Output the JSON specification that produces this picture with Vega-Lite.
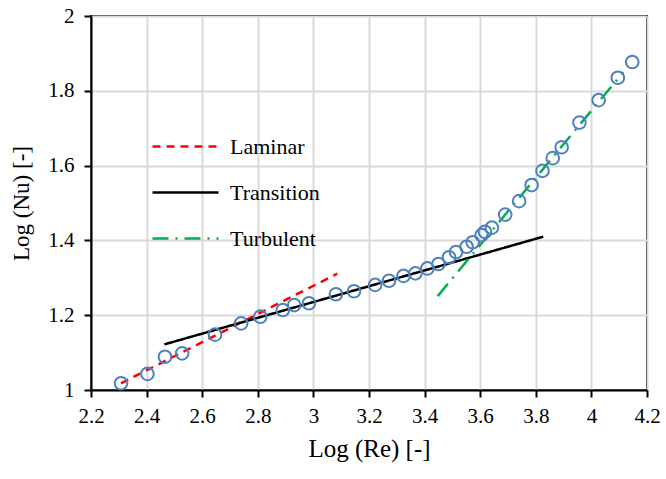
{
  "$schema": "https://vega.github.io/schema/vega-lite/v6.json",
  "autosize": "none",
  "width": 556,
  "height": 374,
  "padding": {"left": 91, "top": 16, "right": 19, "bottom": 89},
  "background": "white",
  "config": {
    "view": {"stroke": "black", "strokeWidth": 2},
    "font": "Times New Roman",
    "axis": {
      "labelFont": "Times New Roman",
      "titleFont": "Times New Roman",
      "labelColor": "black",
      "titleColor": "black",
      "titleFontWeight": "normal",
      "domainColor": "black",
      "domainWidth": 2,
      "tickColor": "black",
      "tickWidth": 2,
      "tickSize": 7,
      "gridColor": "#d9d9d9",
      "gridWidth": 2
    },
    "legend": {"labelFont": "Times New Roman"}
  },
  "datasets": {
    "points": [
      {"re": 2.308, "nu": 1.018}, {"re": 2.403, "nu": 1.043}, {"re": 2.466, "nu": 1.089},
      {"re": 2.528, "nu": 1.098}, {"re": 2.646, "nu": 1.148}, {"re": 2.740, "nu": 1.178},
      {"re": 2.809, "nu": 1.196}, {"re": 2.890, "nu": 1.214}, {"re": 2.931, "nu": 1.227},
      {"re": 2.984, "nu": 1.232}, {"re": 3.081, "nu": 1.256}, {"re": 3.146, "nu": 1.264},
      {"re": 3.222, "nu": 1.281}, {"re": 3.272, "nu": 1.292}, {"re": 3.324, "nu": 1.305},
      {"re": 3.367, "nu": 1.312}, {"re": 3.410, "nu": 1.325}, {"re": 3.450, "nu": 1.337},
      {"re": 3.488, "nu": 1.355}, {"re": 3.513, "nu": 1.369}, {"re": 3.551, "nu": 1.383},
      {"re": 3.573, "nu": 1.395}, {"re": 3.605, "nu": 1.414}, {"re": 3.617, "nu": 1.423},
      {"re": 3.642, "nu": 1.434}, {"re": 3.690, "nu": 1.469}, {"re": 3.740, "nu": 1.505},
      {"re": 3.785, "nu": 1.548}, {"re": 3.824, "nu": 1.586}, {"re": 3.861, "nu": 1.620},
      {"re": 3.893, "nu": 1.649}, {"re": 3.957, "nu": 1.715}, {"re": 4.026, "nu": 1.775},
      {"re": 4.095, "nu": 1.835}, {"re": 4.147, "nu": 1.877}
    ],
    "fits": [
      {"series": "Laminar", "re": 2.308, "nu": 1.018},
      {"series": "Laminar", "re": 3.086, "nu": 1.311},
      {"series": "Transition", "re": 2.464, "nu": 1.122},
      {"series": "Transition", "re": 3.827, "nu": 1.410},
      {"series": "Turbulent", "re": 3.447, "nu": 1.251},
      {"series": "Turbulent", "re": 4.115, "nu": 1.850}
    ]
  },
  "layer": [
    {
      "data": {"name": "fits"},
      "mark": {"type": "line", "strokeWidth": 2.5},
      "encoding": {
        "x": {
          "field": "re", "type": "quantitative",
          "scale": {"domain": [2.2, 4.2], "nice": false, "zero": false},
          "axis": {"values": [2.2, 2.4, 2.6, 2.8, 3, 3.2, 3.4, 3.6, 3.8, 4, 4.2], "format": ".1~f", "title": "Log (Re) [-]",
            "labelFont": "Times New Roman", "titleFont": "Times New Roman",
            "labelFontSize": 21, "titleFontSize": 25, "labelPadding": 8, "titlePadding": 10, "labelFlush": false}
        },
        "y": {
          "field": "nu", "type": "quantitative",
          "scale": {"domain": [1, 2], "nice": false, "zero": false},
          "axis": {"values": [1, 1.2, 1.4, 1.6, 1.8, 2], "format": ".1~f", "title": "Log (Nu) [-]",
            "labelFont": "Times New Roman", "titleFont": "Times New Roman",
            "labelFontSize": 21, "titleFontSize": 23, "labelPadding": 10, "titlePadding": 14, "labelFlush": false}
        },
        "color": {
          "field": "series", "type": "nominal",
          "scale": {"domain": ["Laminar", "Transition", "Turbulent"], "range": ["#ff0000", "#000000", "#00b050"]},
          "legend": {
            "title": null,
            "orient": "none",
            "legendX": 60,
            "legendY": 96,
            "symbolType": "stroke",
            "symbolSize": 4356,
            "symbolStrokeWidth": 2.5,
            "labelFont": "Times New Roman",
            "labelFontSize": 22,
            "labelColor": "black",
            "labelOffset": 10,
            "rowPadding": -2,
            "labelLimit": 300
          }
        },
        "strokeDash": {
          "field": "series", "type": "nominal",
          "scale": {"domain": ["Laminar", "Transition", "Turbulent"], "range": [[8, 6], [1, 0], [16, 7, 2, 7]]},
          "legend": null
        },
        "detail": {"field": "series"}
      }
    },
    {
      "data": {"name": "points"},
      "mark": {"type": "point", "shape": "circle", "filled": false, "stroke": "#4f81bd", "strokeWidth": 2, "size": 160, "opacity": 1},
      "encoding": {
        "x": {"field": "re", "type": "quantitative"},
        "y": {"field": "nu", "type": "quantitative"}
      }
    }
  ]
}
